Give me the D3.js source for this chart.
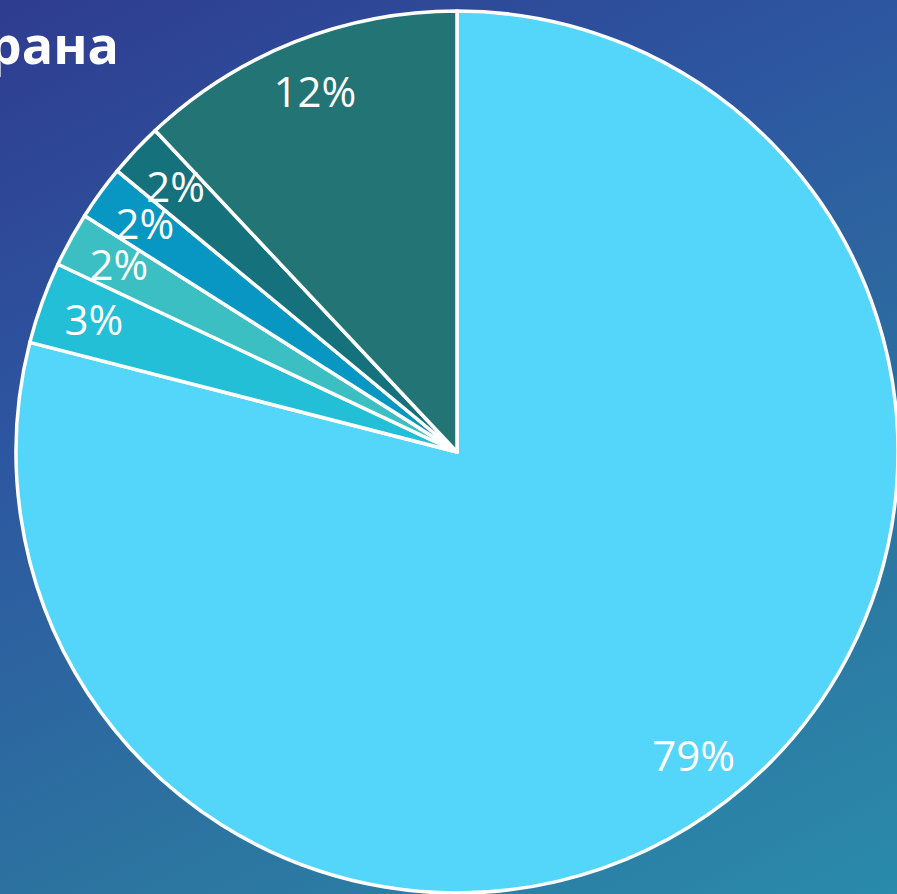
<!DOCTYPE html>
<html>
<head>
<meta charset="utf-8">
<script src="https://cdn.jsdelivr.net/npm/d3@7"></script>
<style>
  html, body { margin: 0; padding: 0; overflow: hidden; }
  svg { display: block; }
</style>
</head>
<body>
<script>
(function() {
const width = 897;
const height = 894;

// data
const categories = ["A", "B", "C", "D", "E", "F"];
const values = [79, 3, 2, 2, 2, 12];
const colors = ["#54d5fa", "#22bfd6", "#3bbfc3", "#0897c2", "#15717b", "#237474"];
const title = "Страна";

const svg = d3.select("body")
  .append("svg")
  .attr("width", width)
  .attr("height", height);

// background gradient
const defs = svg.append("defs");
const bg = defs.append("linearGradient")
  .attr("id", "bg")
  .attr("gradientUnits", "userSpaceOnUse")
  .attr("x1", 0).attr("y1", 0)
  .attr("x2", 537).attr("y2", 1077);
bg.append("stop").attr("offset", "0%").attr("stop-color", "#2f3c90");
bg.append("stop").attr("offset", "33%").attr("stop-color", "#2d56a0");
bg.append("stop").attr("offset", "67%").attr("stop-color", "#2c72a0");
bg.append("stop").attr("offset", "100%").attr("stop-color", "#2a8bab");

svg.append("rect")
  .attr("width", width)
  .attr("height", height)
  .attr("fill", "url(#bg)");

// title (cut off at the left edge)
svg.append("text")
  .attr("x", 119)
  .attr("y", 64)
  .attr("text-anchor", "end")
  .attr("fill", "#fff")
  .attr("font-family", "'Open Sans', 'Noto Sans', sans-serif")
  .attr("font-weight", "bold")
  .attr("font-size", "52px")
  .text(title);

const cx = 457, cy = 452, r = 441;
const data = categories.map((c, i) => ({ name: c, value: values[i], color: colors[i] }));

const pie = d3.pie().sort(null).value(d => d.value);
const arc = d3.arc().innerRadius(0).outerRadius(r);
const labelArc = d3.arc().innerRadius(r * 0.875).outerRadius(r * 0.875);

const g = svg.append("g").attr("transform", `translate(${cx},${cy})`);

const arcs = pie(data);

g.selectAll("path")
  .data(arcs)
  .join("path")
  .attr("d", arc)
  .attr("fill", d => d.data.color)
  .attr("stroke", "#fff")
  .attr("stroke-width", 3.5)
  .attr("stroke-linejoin", "round");

g.selectAll(".label")
  .data(arcs)
  .join("text")
  .attr("class", "label")
  .attr("transform", d => `translate(${labelArc.centroid(d)})`)
  .attr("text-anchor", "middle")
  .attr("dy", "0.33em")
  .attr("fill", "#fff")
  .attr("font-family", "'Open Sans', 'Noto Sans', sans-serif")
  .attr("font-size", "42px")
  .text(d => d.data.value + "%");
}());
</script>
</body>
</html>
